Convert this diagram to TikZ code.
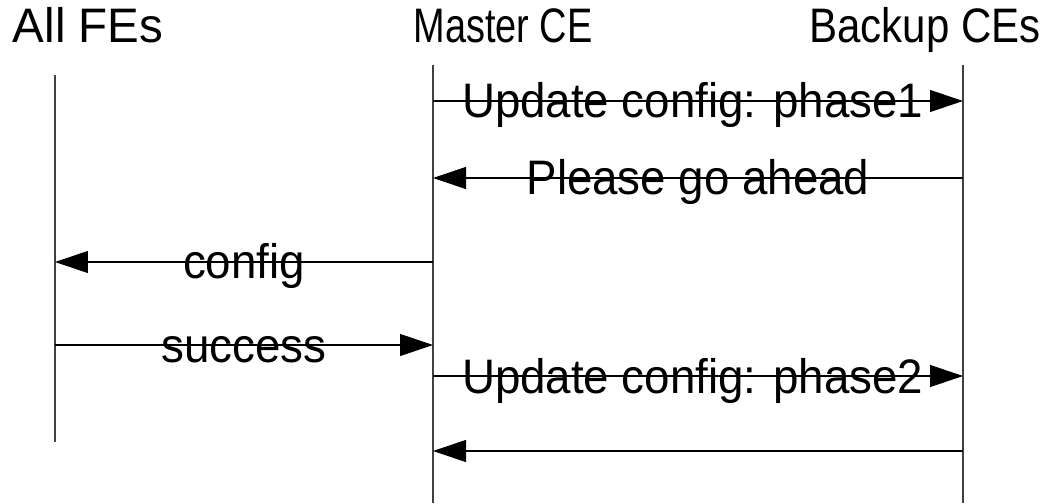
\documentclass[tikz,border=0pt]{standalone}
\usepackage{fontspec}
\setmainfont{Liberation Sans}
\usetikzlibrary{arrows.meta}
\newcommand{\tallbox}[2][1]{\scalebox{#1}[1.06]{#2}}
\tikzset{
  head/.style={anchor=base, inner sep=0pt, font=\fontsize{26}{30}\selectfont},
  lbl/.style={anchor=base, inner sep=0pt, yshift=-0.34cm, font=\fontsize{26}{30}\selectfont},
  life/.style={draw=black!75, line width=0.6pt},
  msg/.style={draw=black, line width=0.6pt, -{Triangle[length=0.66cm, width=0.44cm]}}
}
\begin{document}
\begin{tikzpicture}[x=0.02cm, y=-0.02cm]
\useasboundingbox (0,0) rectangle (1043,503);

\node[head] (fes) at (88,43) {\tallbox[1.04]{All FEs}};
\node[head] (mce) at (503,43) {\tallbox[0.83]{Master CE}};
\node[head] (bce) at (925,43) {\tallbox[0.92]{Backup CEs}};

\coordinate (fetop) at (55,75);
\coordinate (febot) at (55,442);
\coordinate (mtop) at (433,65);
\coordinate (mbot) at (433,503);
\coordinate (btop) at (963,65);
\coordinate (bbot) at (963,503);

\draw[life] (fetop) -- (febot);
\draw[life] (mtop) -- (mbot);
\draw[life] (btop) -- (bbot);

\draw[msg] (mtop |- 0,101) -- (btop |- 0,101) node[lbl, pos=0.49] (upd1) {\tallbox{Update config: phase1}};
\draw[msg] (btop |- 0,178) -- (mtop |- 0,178) node[lbl, pos=0.5] (ahead) {\tallbox{Please go ahead}};
\draw[msg] (mtop |- 0,262) -- (fetop |- 0,262) node[lbl, pos=0.5] (cfg) {\tallbox{config}};
\draw[msg] (fetop |- 0,345) -- (mtop |- 0,345) node[lbl, pos=0.5] (ok) {\tallbox{success}};
\draw[msg] (mtop |- 0,376) -- (btop |- 0,376) node[lbl, pos=0.49] (upd2) {\tallbox{Update config: phase2}};
\draw[msg] (btop |- 0,451) -- (mtop |- 0,451);

\end{tikzpicture}
\end{document}
